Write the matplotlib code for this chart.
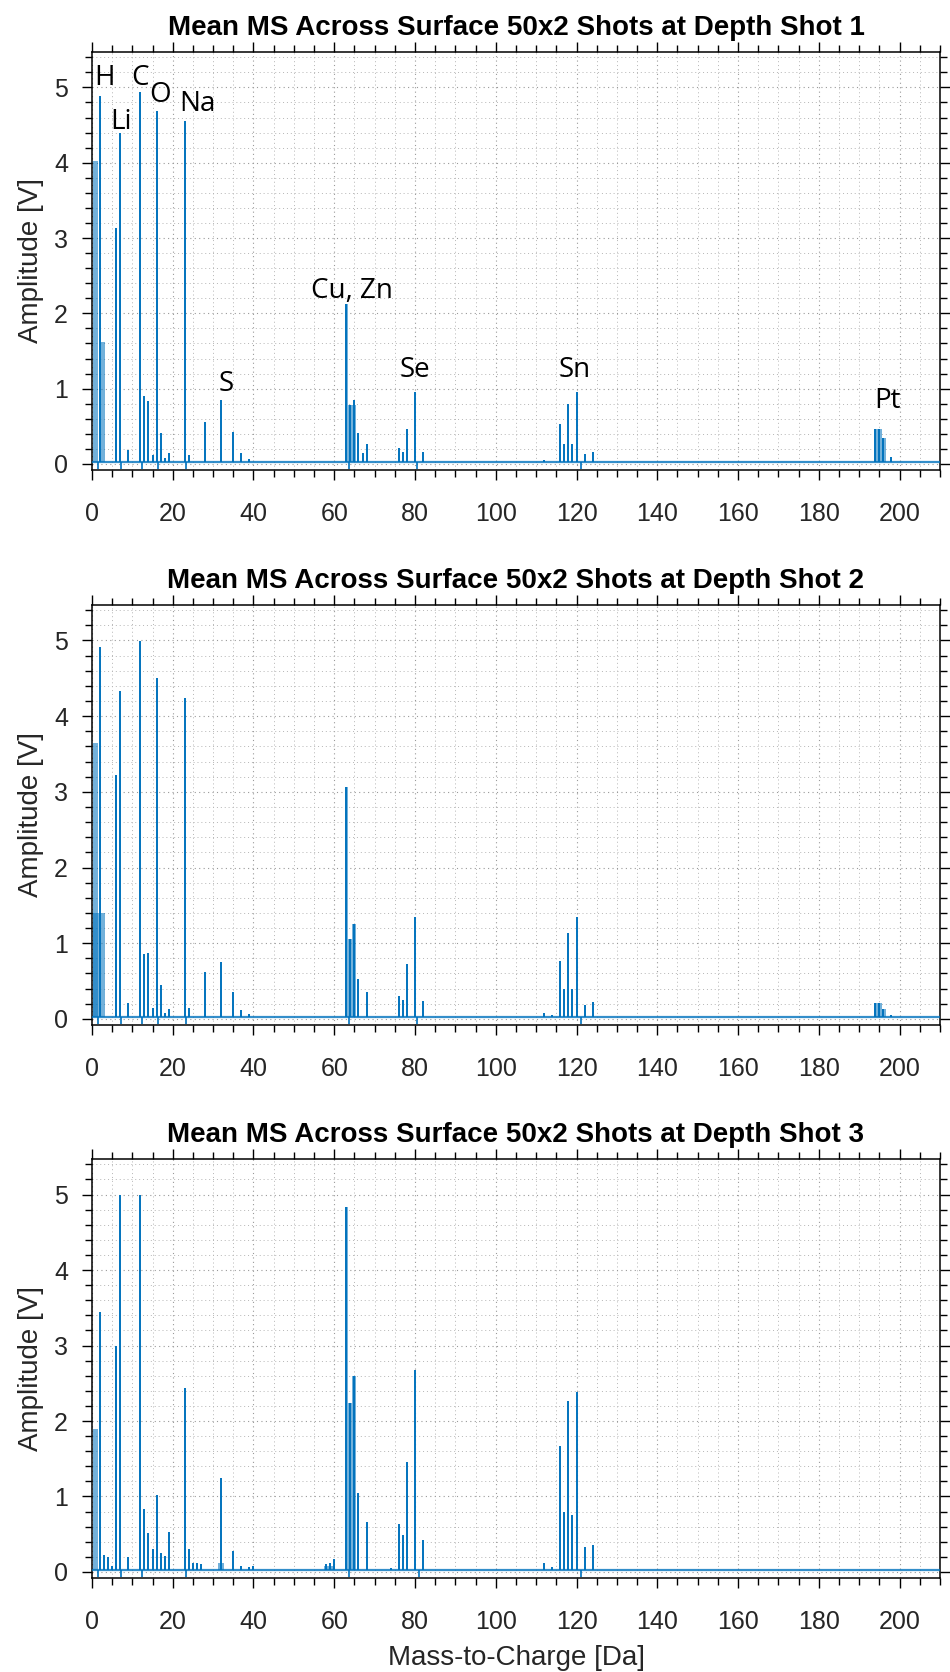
import matplotlib
matplotlib.use("Agg")
import matplotlib.pyplot as plt
from matplotlib.ticker import MultipleLocator

# ---- data (m/z in Da, amplitude in V) ----
masses1 = [2, 6, 7, 9, 12, 13, 14, 15, 16, 17, 18, 19, 23, 24, 28, 32, 35, 37, 39,
           63, 64, 65, 66, 67, 68, 76, 77, 78, 80, 82, 112,
           116, 117, 118, 119, 120, 122, 124, 194, 195, 196, 198]
heights1 = [4.88, 3.13, 4.39, 0.19, 4.94, 0.90, 0.84, 0.12, 4.69, 0.41, 0.08, 0.14, 4.56, 0.12, 0.56, 0.85, 0.43, 0.14, 0.07,
            2.13, 0.78, 0.85, 0.41, 0.15, 0.27, 0.21, 0.16, 0.47, 0.96, 0.16, 0.05,
            0.53, 0.27, 0.80, 0.27, 0.96, 0.13, 0.16, 0.46, 0.47, 0.35, 0.09]

masses2 = [2, 6, 7, 9, 12, 13, 14, 15, 16, 17, 18, 19, 23, 24, 28, 32, 35, 37, 39,
           63, 64, 65, 66, 68, 76, 77, 78, 80, 82, 112, 114,
           116, 117, 118, 119, 120, 122, 124, 194, 195, 196, 198]
heights2 = [4.92, 3.22, 4.33, 0.21, 4.99, 0.86, 0.87, 0.15, 4.51, 0.45, 0.08, 0.13, 4.24, 0.15, 0.62, 0.75, 0.36, 0.12, 0.07,
            3.07, 1.05, 1.26, 0.53, 0.35, 0.30, 0.25, 0.72, 1.35, 0.23, 0.08, 0.05,
            0.76, 0.40, 1.14, 0.40, 1.34, 0.18, 0.22, 0.21, 0.21, 0.13, 0.05]

masses3 = [2, 3, 4, 5, 6, 7, 9, 12, 13, 14, 15, 16, 17, 18, 19, 23, 24, 25, 26, 27,
           32, 35, 37, 39, 40, 58, 59, 60, 63, 64, 65, 66, 68, 74, 76, 77, 78, 80, 82,
           112, 114, 116, 117, 118, 119, 120, 122, 124]
heights3 = [3.45, 0.22, 0.20, 0.08, 2.99, 4.99, 0.20, 4.99, 0.83, 0.51, 0.30, 1.02, 0.25, 0.21, 0.53, 2.44, 0.30, 0.12, 0.12, 0.10,
            1.25, 0.28, 0.08, 0.06, 0.08, 0.10, 0.12, 0.17, 4.84, 2.24, 2.60, 1.05, 0.66, 0.05, 0.63, 0.49, 1.46, 2.68, 0.43,
            0.12, 0.07, 1.67, 0.79, 2.26, 0.75, 2.38, 0.33, 0.36]

# unresolved clusters that render as filled blocks
bands1_x0 = [0.3, 2.2, 5.6, 62.8, 63.4, 193.8, 195.6]
bands1_x1 = [1.4, 3.3, 6.2, 63.4, 65.4, 195.6, 196.6]
bands1_h = [4.02, 1.62, 3.13, 2.13, 0.78, 0.46, 0.34]

bands2_x0 = [0.3, 0.3, 5.6, 62.8, 63.4, 64.4, 193.8, 195.6]
bands2_x1 = [1.4, 3.3, 6.2, 63.4, 64.4, 65.4, 195.6, 196.6]
bands2_h = [3.64, 1.40, 3.22, 3.07, 1.05, 1.26, 0.21, 0.13]

bands3_x0 = [0.3, 5.6, 31.2, 57.5, 62.8, 63.5, 64.5]
bands3_x1 = [1.4, 6.2, 32.8, 60.3, 63.5, 64.5, 65.4]
bands3_h = [1.89, 2.99, 0.12, 0.08, 4.84, 2.24, 2.60]

# negative excursions next to strong peaks
dips1 = [1.5, 7.3, 12.4, 16.4, 23.4, 63.6, 80.5, 121.0]
dips2 = [1.5, 7.3, 12.4, 16.4, 23.4, 63.6, 80.5, 121.0]
dips3 = [1.5, 7.3, 12.4, 23.4, 63.6, 81.0, 121.0]

baseline = 0.02

element_labels = ["H", "Li", "C", "O", "Na", "S", "Cu, Zn", "Se", "Sn", "Pt"]
label_x = [3.0, 7.3, 11.8, 16.9, 26.0, 33.2, 64.4, 80.0, 119.6, 197.0]
label_y = [5.03, 4.45, 5.03, 4.80, 4.69, 0.97, 2.20, 1.16, 1.16, 0.74]

panels = [
    (masses1, heights1, bands1_x0, bands1_x1, bands1_h, dips1),
    (masses2, heights2, bands2_x0, bands2_x1, bands2_h, dips2),
    (masses3, heights3, bands3_x0, bands3_x1, bands3_h, dips3),
]

line_color = "#0072BD"
text_gray = "#262626"

plt.rcParams["font.family"] = ["Liberation Sans", "DejaVu Sans"]

fig = plt.figure(figsize=(9.5, 16.72), dpi=100)

boxes = [
    [0.0968, 0.7189, 0.8926, 0.2500],
    [0.0968, 0.3870, 0.8926, 0.2512],
    [0.0968, 0.0562, 0.8926, 0.2506],
]

for i, (m, h, bx0, bx1, bh, dips) in enumerate(panels):
    ax = fig.add_axes(boxes[i])

    # baseline
    ax.plot([0, 210], [baseline, baseline], color=line_color, lw=1.6, alpha=0.8, zorder=3)
    # filled clusters
    for x0, x1, hh in zip(bx0, bx1, bh):
        ax.fill_between([x0, x1], baseline, hh, color=line_color, alpha=0.55, lw=0, zorder=3)
    # peaks
    ax.vlines(m, baseline, h, color=line_color, lw=1.4, zorder=4)
    # small negative excursions
    ax.vlines(dips, -0.07, baseline, color=line_color, lw=1.2, zorder=4)

    ax.set_xlim(0, 210)
    ax.set_ylim(-0.08, 5.47)
    ax.xaxis.set_major_locator(MultipleLocator(20))
    ax.xaxis.set_minor_locator(MultipleLocator(5))
    ax.yaxis.set_major_locator(MultipleLocator(1))
    ax.yaxis.set_minor_locator(MultipleLocator(0.2))

    ax.grid(which="major", color="#9a9a9a", linestyle=(0, (1, 3)), lw=0.8)
    ax.grid(which="minor", color="#b5b5b5", linestyle=(0, (1, 3)), lw=0.7)
    ax.set_axisbelow(True)

    ax.tick_params(which="both", direction="out", top=True, right=True,
                   colors="black", labelcolor=text_gray, width=1.0)
    ax.tick_params(which="major", length=7.2, labelsize=18)
    ax.tick_params(which="minor", length=5)
    ax.tick_params(axis="x", which="major", pad=16)
    ax.tick_params(axis="y", which="major", pad=10)
    for sp in ax.spines.values():
        sp.set_linewidth(1.1)
        sp.set_color("black")

    ax.set_title(f"Mean MS Across Surface 50x2 Shots at Depth Shot {i + 1}",
                 fontsize=20, fontweight="bold", pad=12)
    ax.set_ylabel("Amplitude [V]", fontsize=20, color=text_gray)
    ax.yaxis.set_label_coords(-0.057, 0.5)

    if i == 0:
        for lab, lx, ly in zip(element_labels, label_x, label_y):
            ax.text(lx, ly, lab, ha="center", va="baseline", fontsize=20,
                    family=["Open Sans", "DejaVu Sans"], color="black", zorder=5)

# x label below the last panel
fig.text(516 / 950, 1 - 1658 / 1672, "Mass-to-Charge [Da]", fontsize=20,
         color=text_gray, ha="center", va="center")

fig.savefig("out.png", dpi=100)
